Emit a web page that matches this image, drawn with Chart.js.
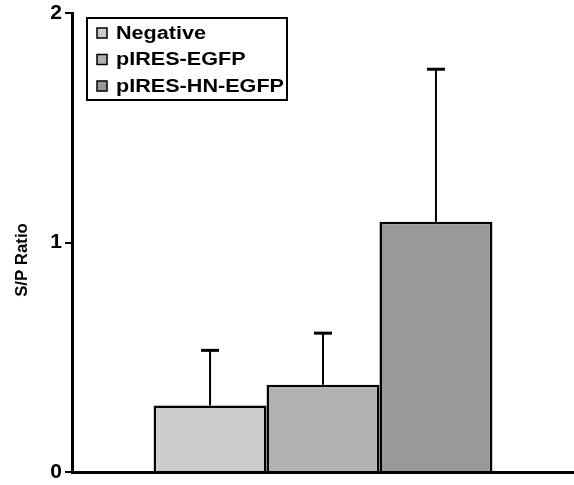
<!DOCTYPE html>
<html>
<head>
<meta charset="utf-8">
<script src="https://cdn.jsdelivr.net/npm/chart.js@4.4.1/dist/chart.umd.min.js"></script>
<style>
  html, body { margin: 0; padding: 0; background: #fff; }
  #wrap { width: 574px; height: 485px; position: relative; }
</style>
</head>
<body>
<div id="wrap"><canvas id="c" width="574" height="485"></canvas></div>
<script>
// ---- data ----
const categories = [''];
const seriesLabels = ['Negative', 'pIRES-EGFP', 'pIRES-HN-EGFP'];
const seriesValues = [0.29, 0.38, 1.09];
const seriesErrors = [0.24, 0.225, 0.665];
const seriesColors = ['#cccccc', '#b2b2b2', '#999999'];
const yTicks = [0, 1, 2];
const yTitle = 'S/P Ratio';

const FONT = '"Liberation Sans", Arial, Helvetica, sans-serif';

const datasets = seriesLabels.map((lab, i) => ({
  label: lab,
  data: [seriesValues[i]],
  errors: [seriesErrors[i]],
  backgroundColor: seriesColors[i],
  borderColor: '#000',
  borderWidth: 2.5,
  borderSkipped: 'bottom',
  categoryPercentage: 0.675,
  barPercentage: 1.0
}));

const errorBarPlugin = {
  id: 'errorBars',
  afterDatasetsDraw(chart) {
    const ctx = chart.ctx;
    const y = chart.scales.y;
    ctx.save();
    ctx.strokeStyle = '#000';
    chart.data.datasets.forEach((ds, di) => {
      const meta = chart.getDatasetMeta(di);
      meta.data.forEach((bar, j) => {
        const v = ds.data[j];
        const e = ds.errors[j];
        const yTop = y.getPixelForValue(v + e);
        const yBar = y.getPixelForValue(v);
        ctx.lineWidth = 2;
        ctx.beginPath();
        ctx.moveTo(bar.x, yBar);
        ctx.lineTo(bar.x, yTop);
        ctx.stroke();
        ctx.lineWidth = 3;
        ctx.beginPath();
        ctx.moveTo(bar.x - 9, yTop);
        ctx.lineTo(bar.x + 9, yTop);
        ctx.stroke();
      });
    });
    ctx.restore();
  }
};

const legendTitlePlugin = {
  id: 'boxLegend',
  afterDraw(chart) {
    const ctx = chart.ctx;
    const area = chart.chartArea;
    ctx.save();
    // y axis title
    ctx.fillStyle = '#000';
    ctx.font = 'bold 16px ' + FONT;
    ctx.textAlign = 'center';
    ctx.textBaseline = 'middle';
    ctx.translate(23, 260);
    ctx.rotate(-Math.PI / 2);
    ctx.scale(1.05, 1);
    ctx.fillText(yTitle, 0, 0);
    ctx.restore();

    // legend box
    ctx.save();
    const bx = area.left + 15, by = area.top + 5, bw = 200, bh = 82;
    ctx.fillStyle = '#fff';
    ctx.fillRect(bx, by, bw, bh);
    ctx.strokeStyle = '#000';
    ctx.lineWidth = 2;
    ctx.strokeRect(bx, by, bw, bh);
    ctx.font = 'bold 18px ' + FONT;
    ctx.textAlign = 'left';
    ctx.textBaseline = 'middle';
    chart.data.datasets.forEach((ds, i) => {
      const cy = by + 15 + i * 26.5;
      ctx.fillStyle = ds.backgroundColor;
      ctx.fillRect(bx + 10, cy - 5, 10, 10);
      ctx.lineWidth = 1.5;
      ctx.strokeStyle = '#000';
      ctx.strokeRect(bx + 10, cy - 5, 10, 10);
      ctx.save();
      ctx.translate(bx + 29, cy + 1);
      ctx.scale(1.2, 1);
      ctx.fillStyle = '#000';
      ctx.fillText(ds.label, 0, 0);
      ctx.restore();
    });
    ctx.restore();
  }
};

new Chart(document.getElementById('c'), {
  type: 'bar',
  data: { labels: categories, datasets },
  options: {
    responsive: false,
    animation: false,
    devicePixelRatio: 1,
    layout: { padding: { top: 13, right: 0, bottom: 13, left: 0 } },
    plugins: { legend: { display: false }, tooltip: { enabled: false } },
    scales: {
      x: {
        afterFit(scale) { scale.height = 0; scale.paddingLeft = 0; scale.paddingRight = 0; },
        grid: { display: false },
        ticks: { display: false },
        border: { display: true, color: '#000', width: 3 }
      },
      y: {
        min: 0, max: 2,
        afterBuildTicks(scale) { scale.ticks = yTicks.map(v => ({ value: v })); },
        afterFit(scale) { scale.width = 72; scale.paddingTop = 0; scale.paddingBottom = 0; },
        ticks: {
          color: '#000',
          padding: 3,
          font: { family: FONT, size: 21, weight: 'bold' }
        },
        grid: { display: true, drawOnChartArea: false, drawTicks: true, tickLength: 7, color: '#000', lineWidth: 2 },
        border: { display: true, color: '#000', width: 3 }
      }
    }
  },
  plugins: [errorBarPlugin, legendTitlePlugin]
});
</script>
</body>
</html>
